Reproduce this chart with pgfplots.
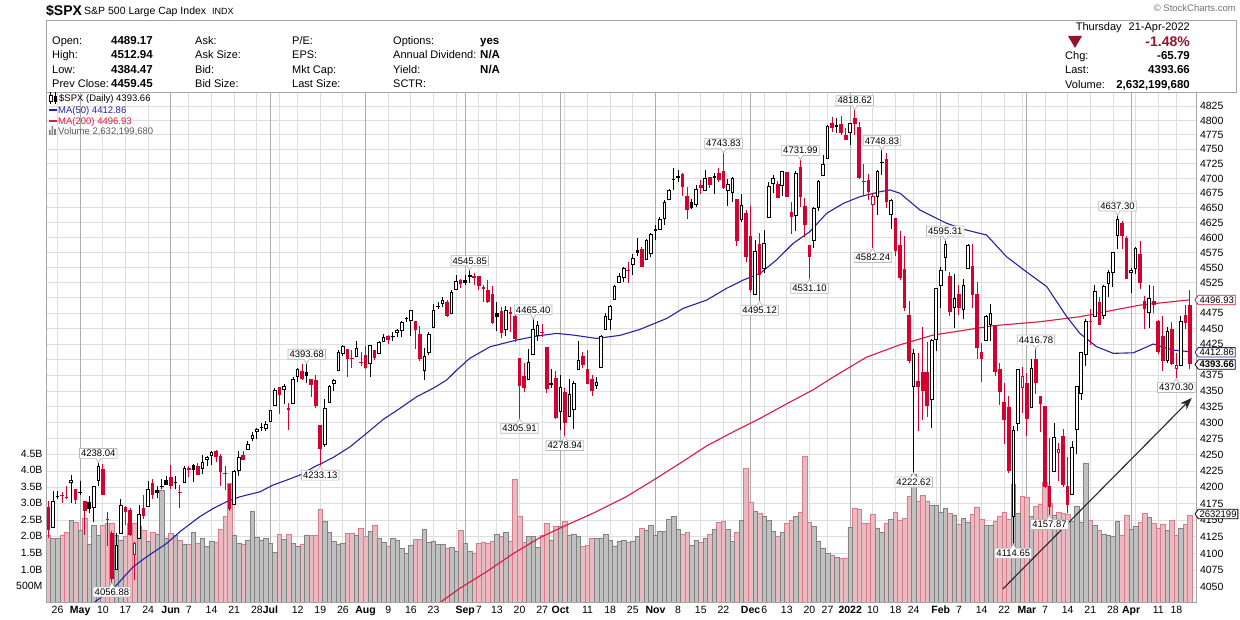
\documentclass[border=0pt]{standalone}
\usepackage{fontspec}
\setmainfont{Liberation Sans}
\usepackage{pgfplots}
\pgfplotsset{compat=1.18}
\usepackage{pgfplotstable}
\usetikzlibrary{shapes.callouts,shapes.symbols,arrows.meta}

\definecolor{cred}{RGB}{214,0,48}
\definecolor{mafifty}{RGB}{36,36,160}
\definecolor{matwo}{RGB}{222,24,62}
\definecolor{volpink}{RGB}{233,186,192}
\definecolor{volpinkedge}{RGB}{216,124,140}
\definecolor{volgray}{RGB}{192,192,192}
\definecolor{volgrayedge}{RGB}{130,130,130}
\definecolor{gridlight}{RGB}{222,222,222}
\definecolor{gridmonth}{RGB}{172,172,172}
\definecolor{framegray}{RGB}{165,165,165}
\definecolor{hdrred}{RGB}{150,20,48}

\newcommand{\fs}[1]{\fontsize{#1}{#1}\selectfont}

% price axis is plotted as 1000*ln(P/4000) on a linear axis (= logarithmic price scale)
\pgfplotstableread{
i O H L C V k
0 4170.46 4179.57 4123.69 4134.98 2.02 3
1 4138.78 4194.17 4138.78 4180.17 1.94 1
2 4185.03 4194.19 4182.36 4187.62 1.93 1
3 4188.25 4193.35 4176.22 4186.72 2.04 3
4 4185.14 4201.53 4181.78 4183.18 2.12 3
5 4206.14 4218.78 4176.81 4211.47 2.49 1
6 4198.10 4198.10 4174.85 4181.17 2.42 3
7 4191.98 4209.39 4188.03 4192.66 2.19 1
8 4179.04 4179.04 4128.59 4164.66 2.54 3
9 4177.06 4187.72 4160.94 4167.59 1.77 4
10 4169.14 4202.70 4147.33 4201.62 2.32 1
11 4210.34 4238.04 4201.64 4232.60 2.03 1
12 4228.29 4236.39 4188.13 4188.43 2.32 3
13 4150.34 4162.04 4111.53 4152.10 2.39 2
14 4130.55 4134.73 4056.88 4063.04 2.39 3
15 4074.99 4131.58 4074.99 4112.50 2.04 1
16 4129.58 4183.13 4129.58 4173.85 1.89 1
17 4169.92 4171.92 4142.69 4163.29 1.99 3
18 4165.94 4169.15 4125.99 4127.83 2.39 3
19 4098.45 4116.93 4061.41 4115.68 2.39 2
20 4121.97 4172.80 4121.97 4159.12 2.29 1
21 4168.61 4188.72 4151.72 4155.86 2.19 3
22 4170.16 4209.52 4170.16 4197.05 1.84 1
23 4205.94 4213.42 4182.52 4188.13 2.12 3
24 4191.59 4202.61 4184.11 4195.99 2.07 1
25 4201.94 4213.38 4197.78 4200.88 3.40 4
26 4210.77 4218.36 4203.57 4204.11 1.94 4
27 4216.52 4234.12 4197.59 4202.04 2.09 3
28 4206.82 4217.37 4198.27 4208.12 2.02 1
29 4191.43 4204.39 4167.93 4192.85 1.89 2
30 4206.05 4233.45 4206.05 4229.89 1.77 1
31 4229.34 4232.34 4215.66 4226.52 1.77 3
32 4233.81 4236.74 4208.41 4227.26 2.12 4
33 4232.99 4237.09 4218.74 4219.55 1.79 3
34 4228.56 4249.74 4220.34 4239.18 1.94 1
35 4242.90 4248.38 4232.25 4247.44 1.69 1
36 4248.31 4255.59 4234.07 4255.15 1.86 1
37 4255.28 4257.16 4238.35 4246.59 1.82 3
38 4248.87 4251.89 4202.45 4223.70 2.22 3
39 4220.37 4232.29 4196.05 4221.86 2.59 2
40 4204.78 4204.78 4164.40 4166.45 3.60 3
41 4173.40 4226.24 4173.40 4224.79 2.04 1
42 4224.61 4255.84 4217.27 4246.44 1.79 1
43 4249.27 4256.60 4241.43 4241.84 1.76 3
44 4256.97 4271.28 4256.97 4266.49 1.89 1
45 4274.45 4286.12 4271.16 4280.70 2.76 1
46 4284.90 4292.14 4274.67 4290.61 1.98 1
47 4293.21 4300.52 4287.04 4291.80 1.89 4
48 4290.65 4302.43 4287.96 4297.50 1.94 1
49 4300.73 4320.66 4300.73 4319.94 1.79 1
50 4326.60 4355.43 4326.60 4352.34 1.52 1
51 4356.46 4356.46 4314.37 4343.54 2.07 3
52 4351.01 4361.88 4329.79 4358.13 1.91 1
53 4321.07 4330.88 4289.37 4320.82 2.07 3
54 4329.38 4371.60 4329.38 4369.55 1.79 1
55 4372.41 4386.68 4364.03 4384.63 1.71 1
56 4381.07 4392.37 4366.92 4369.21 1.77 3
57 4380.11 4393.68 4362.36 4374.30 2.04 4
58 4369.02 4369.02 4340.70 4360.03 2.02 3
59 4367.43 4375.09 4322.53 4327.16 2.04 3
60 4296.40 4296.40 4233.13 4258.49 2.82 3
61 4265.11 4336.84 4262.05 4323.06 2.46 1
62 4331.13 4359.70 4331.13 4358.69 2.12 1
63 4361.27 4369.87 4350.06 4367.48 1.85 1
64 4381.20 4415.18 4381.20 4411.79 1.77 1
65 4409.58 4422.73 4405.45 4422.30 1.79 1
66 4416.38 4416.38 4372.51 4401.46 2.09 3
67 4402.95 4415.47 4387.01 4400.64 2.09 3
68 4403.59 4429.97 4403.59 4419.15 2.02 1
69 4395.12 4412.25 4389.65 4395.26 2.25 2
70 4406.86 4422.18 4384.81 4387.16 1.99 3
71 4392.74 4423.79 4373.00 4423.15 2.16 1
72 4415.95 4416.17 4400.23 4402.66 2.33 3
73 4408.86 4429.76 4408.86 4429.10 1.94 1
74 4429.07 4440.82 4429.07 4436.52 1.82 1
75 4437.77 4439.39 4424.74 4432.35 1.71 3
76 4435.79 4445.21 4430.03 4436.75 1.94 1
77 4442.18 4449.44 4436.42 4447.70 1.89 1
78 4446.08 4461.77 4435.96 4460.83 1.64 1
79 4464.84 4468.37 4460.82 4468.00 1.50 1
80 4461.65 4480.26 4437.66 4479.71 1.74 1
81 4462.12 4462.12 4417.83 4448.08 1.91 3
82 4440.94 4454.32 4397.59 4400.27 1.91 3
83 4382.44 4418.61 4367.73 4405.80 2.22 1
84 4410.56 4444.35 4406.80 4441.67 1.82 1
85 4450.29 4489.88 4450.29 4479.53 1.86 1
86 4484.40 4492.81 4482.28 4486.23 1.77 1
87 4490.45 4501.71 4485.66 4496.19 1.75 1
88 4493.75 4495.90 4468.99 4470.00 1.64 3
89 4474.10 4513.33 4474.10 4509.37 1.67 1
90 4513.76 4537.36 4513.76 4528.79 1.54 1
91 4529.75 4531.39 4515.80 4522.68 2.18 3
92 4528.80 4537.11 4522.02 4524.09 1.79 4
93 4534.48 4545.85 4524.66 4536.95 1.55 1
94 4532.42 4541.45 4521.65 4535.43 1.50 2
95 4535.38 4535.38 4513.00 4520.03 1.79 3
96 4518.09 4521.79 4493.95 4514.07 1.82 3
97 4513.02 4529.90 4492.07 4493.28 1.80 3
98 4506.92 4520.47 4457.66 4458.58 1.85 3
99 4474.81 4492.99 4445.70 4468.73 2.06 4
100 4479.33 4485.68 4435.46 4443.05 1.99 3
101 4447.49 4486.87 4438.37 4480.70 2.12 1
102 4477.09 4485.87 4443.80 4473.75 1.86 3
103 4469.74 4471.52 4427.76 4432.99 3.73 3
104 4402.95 4402.95 4305.91 4357.73 2.59 3
105 4374.45 4394.87 4347.96 4354.19 1.82 3
106 4367.43 4416.75 4367.43 4395.64 2.01 1
107 4406.75 4465.40 4406.75 4448.98 1.99 1
108 4438.04 4463.12 4430.27 4455.48 1.67 1
109 4442.12 4457.30 4436.19 4443.11 2.02 2
110 4419.54 4419.54 4346.33 4352.63 2.39 3
111 4362.41 4385.57 4355.08 4359.46 1.89 4
112 4370.67 4382.55 4306.24 4307.54 2.29 3
113 4317.16 4375.19 4288.52 4357.04 2.29 1
114 4348.84 4355.51 4278.94 4300.46 2.46 3
115 4309.87 4369.23 4309.87 4345.72 2.04 1
116 4319.57 4365.57 4290.49 4363.55 2.07 1
117 4383.73 4429.97 4383.73 4399.76 1.99 1
118 4406.51 4412.02 4386.22 4391.34 1.69 3
119 4385.44 4415.88 4360.59 4361.19 1.72 3
120 4368.31 4374.89 4342.09 4350.65 1.94 3
121 4358.01 4372.87 4353.11 4363.80 1.94 1
122 4386.75 4439.73 4386.75 4438.26 1.94 1
123 4447.69 4475.82 4447.69 4471.37 2.07 1
124 4463.72 4488.75 4447.47 4486.46 1.89 1
125 4497.34 4520.40 4496.41 4519.63 1.71 1
126 4524.42 4540.87 4524.40 4536.19 1.86 1
127 4532.24 4551.44 4526.89 4549.78 1.89 1
128 4546.12 4559.67 4524.00 4544.90 1.82 3
129 4553.69 4572.62 4537.36 4566.48 1.86 1
130 4578.69 4598.53 4569.17 4574.79 2.01 4
131 4580.22 4584.57 4551.66 4551.68 2.24 3
132 4562.84 4597.55 4562.84 4596.42 2.19 1
133 4572.87 4608.08 4567.59 4605.38 2.34 1
134 4610.62 4620.34 4595.06 4613.67 2.04 1
135 4613.34 4635.15 4613.34 4630.65 2.16 1
136 4630.65 4663.46 4621.19 4660.57 2.16 1
137 4662.93 4683.00 4662.59 4680.06 2.51 1
138 4699.26 4718.50 4681.32 4697.53 2.61 4
139 4701.48 4714.92 4694.39 4701.70 2.22 1
140 4707.25 4708.53 4670.87 4685.25 2.07 3
141 4670.26 4684.85 4630.86 4646.71 2.12 3
142 4659.39 4664.55 4648.31 4649.27 1.74 4
143 4655.24 4688.47 4650.77 4682.85 1.89 1
144 4689.30 4697.42 4672.86 4682.80 1.82 3
145 4679.42 4714.95 4679.42 4700.90 1.94 1
146 4701.50 4701.50 4684.41 4688.67 2.06 3
147 4700.72 4708.80 4672.78 4704.54 2.21 1
148 4708.44 4717.75 4694.22 4697.96 2.42 3
149 4712.00 4743.83 4682.17 4682.94 2.46 3
150 4678.48 4699.39 4652.66 4690.70 2.21 1
151 4675.78 4702.87 4659.89 4701.46 1.86 1
152 4664.63 4664.63 4585.43 4594.62 2.12 3
153 4628.75 4672.95 4625.26 4655.27 2.49 1
154 4640.25 4646.02 4560.00 4567.00 4.05 3
155 4602.82 4652.94 4510.27 4513.04 3.04 3
156 4504.73 4595.46 4504.73 4577.10 2.77 1
157 4589.49 4608.03 4495.12 4538.43 2.69 3
158 4548.37 4612.60 4540.51 4591.67 2.61 1
159 4631.97 4694.04 4631.97 4686.75 2.47 1
160 4690.86 4705.06 4674.52 4701.21 2.14 1
161 4691.00 4695.26 4665.98 4667.45 2.01 3
162 4687.64 4713.57 4670.24 4712.02 2.12 1
163 4710.30 4710.30 4667.60 4668.97 2.39 3
164 4642.99 4660.47 4606.52 4634.09 2.49 3
165 4636.46 4712.60 4611.22 4709.85 2.59 1
166 4719.13 4731.99 4651.89 4668.67 2.72 3
167 4652.50 4666.70 4600.22 4620.64 4.43 3
168 4587.90 4587.90 4531.10 4568.02 2.42 3
169 4594.96 4651.14 4583.16 4649.23 2.29 1
170 4650.36 4697.67 4645.53 4696.56 1.85 1
171 4703.96 4740.74 4703.96 4725.79 1.65 1
172 4733.99 4791.49 4733.99 4791.19 1.49 1
173 4795.49 4807.02 4780.04 4786.35 1.43 3
174 4788.64 4804.06 4778.08 4793.06 1.36 1
175 4794.23 4808.93 4775.33 4778.73 1.33 3
176 4775.21 4786.83 4765.75 4766.18 1.33 3
177 4778.14 4796.64 4758.17 4796.56 2.26 1
178 4804.51 4818.62 4774.27 4793.54 2.86 3
179 4787.99 4797.70 4699.44 4700.58 2.82 3
180 4693.39 4725.01 4671.26 4696.05 2.39 2
181 4697.66 4707.95 4662.74 4677.03 2.39 3
182 4655.34 4673.02 4582.24 4670.29 2.67 2
183 4669.14 4714.13 4638.27 4713.07 2.24 1
184 4728.59 4748.83 4706.71 4726.35 2.12 4
185 4733.56 4744.13 4650.29 4659.03 2.39 3
186 4637.99 4665.13 4614.75 4662.85 2.52 1
187 4632.24 4632.24 4568.70 4577.11 2.72 3
188 4588.03 4611.55 4530.20 4532.76 2.49 3
189 4547.35 4602.11 4477.95 4482.73 2.54 3
190 4471.38 4494.52 4395.34 4397.94 3.22 3
191 4356.32 4417.35 4222.62 4410.13 3.87 1
192 4366.64 4411.01 4287.11 4356.45 3.07 3
193 4380.58 4453.23 4304.80 4349.93 3.25 3
194 4380.50 4428.74 4309.50 4326.51 3.07 3
195 4336.19 4432.72 4292.46 4431.85 2.93 1
196 4431.79 4516.89 4414.02 4515.55 2.95 1
197 4519.57 4550.49 4483.53 4546.54 2.71 1
198 4566.39 4595.31 4544.32 4589.38 2.84 1
199 4535.41 4542.88 4470.39 4477.44 2.69 3
200 4482.79 4539.66 4451.50 4500.53 2.64 1
201 4505.75 4521.86 4471.47 4483.87 2.36 3
202 4480.02 4531.32 4465.40 4521.54 2.54 1
203 4547.00 4590.03 4547.00 4587.18 2.42 1
204 4553.24 4588.92 4484.31 4504.08 2.66 3
205 4506.27 4526.33 4401.41 4418.64 2.88 3
206 4412.61 4426.22 4364.84 4401.67 2.51 3
207 4429.28 4472.77 4429.28 4471.07 2.34 1
208 4455.75 4489.55 4429.68 4475.01 2.34 1
209 4456.06 4456.06 4373.81 4380.26 2.44 3
210 4384.57 4394.60 4327.22 4348.87 2.59 3
211 4332.74 4362.12 4267.11 4304.76 2.72 3
212 4324.93 4341.51 4221.51 4225.50 2.51 3
213 4155.77 4294.73 4114.65 4288.70 3.58 1
214 4298.38 4385.34 4286.83 4384.65 2.69 1
215 4354.17 4388.84 4315.12 4373.94 3.22 2
216 4363.14 4378.45 4279.54 4306.26 3.18 3
217 4322.56 4401.48 4322.56 4386.54 2.61 1
218 4401.31 4416.78 4345.56 4363.49 2.90 3
219 4342.12 4342.12 4284.98 4328.87 2.98 3
220 4327.01 4327.01 4199.85 4201.09 3.63 3
221 4202.66 4276.94 4157.87 4170.70 3.00 3
222 4223.10 4299.40 4223.10 4277.88 2.62 1
223 4252.55 4268.28 4209.80 4259.52 2.74 2
224 4279.50 4291.20 4200.49 4204.31 2.69 3
225 4202.75 4247.57 4161.72 4173.11 2.67 3
226 4188.82 4271.05 4187.90 4262.45 2.44 1
227 4288.14 4357.86 4251.99 4357.86 2.92 1
228 4345.11 4412.67 4335.65 4411.67 2.42 1
229 4407.34 4465.40 4390.57 4463.12 4.22 1
230 4462.40 4481.75 4424.30 4461.18 2.49 3
231 4469.10 4522.00 4469.10 4511.61 2.33 1
232 4493.10 4501.07 4455.81 4456.24 2.19 3
233 4469.98 4520.58 4465.17 4520.16 2.07 1
234 4522.91 4546.03 4501.07 4543.06 2.03 1
235 4541.09 4575.65 4517.69 4575.52 2.01 1
236 4602.86 4637.30 4581.18 4631.60 2.46 1
237 4624.20 4627.77 4581.32 4602.45 2.04 3
238 4599.02 4603.07 4530.41 4530.41 2.64 3
239 4540.32 4548.70 4507.57 4545.86 2.21 1
240 4547.97 4583.50 4539.21 4582.64 2.29 1
241 4572.45 4593.45 4514.17 4525.12 2.41 3
242 4494.17 4503.94 4450.04 4481.15 2.69 3
243 4474.65 4521.16 4450.30 4500.21 2.57 1
244 4494.15 4520.41 4474.60 4488.28 2.39 3
245 4462.64 4464.35 4408.38 4412.53 2.25 3
246 4437.59 4471.00 4381.34 4397.45 2.37 3
247 4397.32 4452.33 4394.57 4446.59 2.19 1
248 4449.12 4460.46 4390.77 4392.59 2.47 3
249 4385.63 4410.31 4370.30 4391.69 2.02 2
250 4390.63 4471.03 4390.63 4462.21 2.24 1
251 4472.26 4488.29 4448.76 4459.45 2.36 3
252 4489.17 4512.94 4384.47 4393.66 2.632 3
}\data

\pgfplotsset{
  base/.style={
    at={(46pt,16.5pt)}, anchor=south west, scale only axis,
    width=1150.5pt, height=510.5pt, xmin=-0.55, xmax=253.45,
    major tick length=0pt, minor tick length=0pt,
    tick label style={font=\fs{10.5}},
  },
  candle/.style={only marks, mark=*, mark size=0pt, mark options={draw=none, fill=none},
    error bars/y dir=plus, error bars/y explicit, error bars/error mark=none},
}
\tikzset{
  lbox/.style={rectangle callout, draw=gray!55, fill=white, line width=0.7pt,
    inner sep=1.6pt, font=\fs{9.5}, callout pointer width=5pt},
  tag/.style={signal, signal to=west, signal pointer angle=110, fill=white,
    line width=0.8pt, inner sep=1.3pt, font=\fs{9.5}, anchor=west},
}
\newcommand{\hi}[2]{\node[lbox,above=4pt,callout absolute pointer={(axis cs:#1,{1000*ln(#2/4000)})}] at (axis cs:#1,{1000*ln(#2/4000)}) {#2};}
\newcommand{\lo}[2]{\node[lbox,below=4pt,callout absolute pointer={(axis cs:#1,{1000*ln(#2/4000)})}] at (axis cs:#1,{1000*ln(#2/4000)}) {#2};}

\begin{document}
\begin{tikzpicture}[x=1pt,y=1pt]
\useasboundingbox (0,0) rectangle (1240,619);
\fill[white] (0,0) rectangle (1240,619);

% ---------- axis A: grid and price tick labels
\begin{axis}[base, ymin=6.876, ymax=192.726,
  axis line style={draw=none},
  xtick={2,7,12,17,22,27,31,36,41,46,49,51,55,60,65,70,75,80,85,90,92,95,99,104,109,113,114,119,124,129,134,139,144,149,153,155,158,163,168,172,177,182,187,191,196,197,201,206,211,215,216,220,225,230,235,239,240,245,249},
  xticklabels={},
  extra x ticks={7,27,49,70,92,113,134,155,177,197,216,239},
  extra x tick labels={},
  extra x tick style={xmajorgrids=true, major grid style={draw=gridmonth, line width=0.9pt}},
  xmajorgrids, ymajorgrids,
  major grid style={draw=gridlight, line width=0.9pt},
  ytick={12.422,18.576,24.693,30.772,36.814,42.820,48.790,54.725,60.625,66.490,72.321,78.118,83.881,89.612,95.310,100.976,106.610,112.212,117.783,123.323,128.833,134.313,139.762,145.182,150.572,155.934,161.268,166.573,171.850,177.099,182.322,187.516},
  yticklabels={4050,4075,4100,4125,4150,4175,4200,4225,4250,4275,4300,4325,4350,4375,{},4425,4450,4475,{},4525,4550,4575,4600,4625,4650,4675,4700,4725,4750,4775,4800,4825},
  yticklabel pos=right,
]
\addplot[draw=none, forget plot] coordinates {(0,50) (1,50)};
\end{axis}

% ---------- axis B: volume
\begin{axis}[base, ymin=0, ymax=15.423,
  axis line style={draw=none},
  xtick=\empty,
  ytick={0.5,1,1.5,2,2.5,3,3.5,4,4.5},
  yticklabels={500M,1.0B,1.5B,2.0B,2.5B,3.0B,3.5B,4.0B,4.5B},
  yticklabel pos=left,
]
\addplot[ybar, bar width=1, bar shift=0pt, fill=volpink, draw=volpinkedge, line width=0.6pt,
  restrict expr to domain={\thisrow{k}}{2:3}] table[x=i,y=V]{\data};
\addplot[ybar, bar width=1, bar shift=0pt, fill=volgray, draw=volgrayedge, line width=0.6pt,
  restrict expr to domain={abs(\thisrow{k}-2.5)}{1.4:1.6}] table[x=i,y=V]{\data};
\end{axis}

% ---------- axis C: price
\begin{axis}[base, ymin=6.876, ymax=192.726, clip mode=individual, axis on top,
  axis line style={draw=framegray, line width=0.8pt},
  ytick=\empty,
  xtick={2,7,12,17,22,27,31,36,41,46,49,55,60,65,70,75,80,85,92,95,99,104,109,113,119,124,129,134,139,144,149,155,158,163,168,172,177,182,187,191,197,201,206,211,216,220,225,230,235,239,245,249},
  xticklabels={26,\textbf{May},10,17,24,\textbf{Jun},7,14,21,28,\textbf{Jul},12,19,26,\textbf{Aug},9,16,23,\textbf{Sep},7,13,20,27,\textbf{Oct},11,18,25,\textbf{Nov},8,15,22,\textbf{Dec},6,13,20,27,\textbf{2022},10,18,24,\textbf{Feb},7,14,22,\textbf{Mar},7,14,21,28,\textbf{Apr},11,18},
]
% moving averages (values in index points, transformed to log scale)
\addplot[matwo, line width=1.1pt, y filter/.expression={1000*ln(y/4000)}] coordinates {
(84,4018) (86.4,4027.6) (90.8,4048.5) (96.7,4073) (102.6,4100) (108.5,4124) (114.4,4143)
(120.3,4161) (127.6,4186) (133.5,4211) (139.4,4237) (145.3,4264) (151.2,4286) (157.1,4307)
(163,4330) (168.8,4352) (173.2,4372) (180.6,4404) (188,4424) (195.3,4439.6) (208.6,4454.6)
(218.9,4461.2) (227.7,4469.3) (235.1,4480) (241,4488.3) (252,4496.93)};
\addplot[mafifty, line width=1.1pt, y filter/.expression={1000*ln(y/4000)}] coordinates {
(9,4020) (10.3,4028.8) (14.7,4050.9) (18.7,4080.5) (21.7,4095.4) (26.1,4115.4) (29,4132.8)
(33.4,4155.5) (36.4,4168.2) (39.3,4178.2) (42.3,4185.8) (46.7,4193.4) (49.6,4203.7)
(52.6,4211.4) (55.5,4219) (58.8,4232) (60,4236) (62.9,4246.3) (66.6,4262.7) (70.2,4283.6)
(73.9,4305.4) (77.6,4322.7) (81.3,4341.1) (84.9,4354.4) (87.9,4367.5) (90.1,4383.3)
(93,4402.1) (97.5,4420.7) (103.4,4431.6) (107.8,4438) (112.2,4442.3) (115.9,4439.6)
(121,4434.2) (126.2,4439.1) (130.6,4448.8) (136.5,4466.6) (140.1,4482.9) (145.3,4496.5)
(149.7,4515.7) (153.4,4529.4) (157.1,4540.5) (160.7,4562.5) (164.4,4590.3) (168.1,4610)
(171.8,4640.8) (175.5,4657.6) (179.1,4668.8) (183.5,4677.3) (185.8,4680.3) (188,4674.6)
(192.4,4646.3) (198.3,4623.8) (202.7,4612.6) (207.1,4604.2) (211.5,4568) (215.9,4543)
(220.4,4518.4) (224.8,4469.3) (227.7,4442.3) (231.4,4420.7) (235.1,4410.2) (239.5,4411)
(243.9,4425.1) (248.3,4415.4) (252,4412.86)};
% wicks
\addplot[candle, restrict expr to domain={abs(\thisrow{k}-2.5)}{1.4:1.6},
  error bars/error bar style={draw=black, line width=1pt}]
  table[x=i, y expr={1000*ln(\thisrow{L}/4000)}, y error expr={1000*ln(\thisrow{H}/\thisrow{L})}]{\data};
\addplot[candle, restrict expr to domain={\thisrow{k}}{2:3},
  error bars/error bar style={draw=cred, line width=1pt}]
  table[x=i, y expr={1000*ln(\thisrow{L}/4000)}, y error expr={1000*ln(\thisrow{H}/\thisrow{L})}]{\data};
% bodies
\addplot[candle, restrict expr to domain={abs(\thisrow{k}-2.5)}{1.4:1.6},
  error bars/error bar style={draw=black, line width=3.6pt}]
  table[x=i, y expr={1000*ln(min(\thisrow{O},\thisrow{C})/4000)}, y error expr={max(1000*abs(ln(\thisrow{C}/\thisrow{O})),0.4)}]{\data};
\addplot[candle, restrict expr to domain={\thisrow{k}}{2:3},
  error bars/error bar style={draw=cred, line width=3.6pt}]
  table[x=i, y expr={1000*ln(min(\thisrow{O},\thisrow{C})/4000)}, y error expr={max(1000*abs(ln(\thisrow{C}/\thisrow{O})),0.4)}]{\data};
% hollow interiors
\addplot[candle, restrict expr to domain={(\thisrow{k}<2.5)*(\thisrow{C}-\thisrow{O}>4.5)}{0.5:1.5},
  error bars/error bar style={draw=white, line width=1.6pt}]
  table[x=i, y expr={1000*ln(\thisrow{O}/4000)+0.364}, y error expr={1000*ln(\thisrow{C}/\thisrow{O})-0.728}]{\data};

% arrow
\draw[black!85, line width=1.1pt, -{Stealth[length=12pt,width=9pt]}] (axis cs:210.7,11.805) -- (axis cs:252.4,81.33);

% high / low labels
\hi{11}{4238.04}
\lo{14}{4056.88}
\hi{57}{4393.68}
\lo{60}{4233.13}
\hi{93}{4545.85}
\hi{107}{4465.40}
\lo{104}{4305.91}
\lo{114}{4278.94}
\hi{149}{4743.83}
\lo{157}{4495.12}
\hi{166}{4731.99}
\lo{168}{4531.10}
\hi{178}{4818.62}
\hi{184}{4748.83}
\lo{182}{4582.24}
\hi{198}{4595.31}
\lo{191}{4222.62}
\hi{218}{4416.78}
\lo{213}{4114.65}
\lo{221}{4157.87}
\hi{236}{4637.30}
\lo{249}{4370.30}
\end{axis}

% ---------- header
\node[anchor=base west, inner sep=0, font=\fs{14}\bfseries] at (46,603) {\$SPX};
\node[anchor=base west, inner sep=0, font=\fs{10.5}] at (84,604) {S\&P 500 Large Cap Index};
\node[anchor=base west, inner sep=0, font=\fs{9}] at (212,604) {INDX};
\node[anchor=base east, inner sep=0, font=\fs{9.5}, text=gray!90!black] at (1236,607.5) {© StockCharts.com};
\draw[framegray, line width=0.8pt] (46,527) rectangle (1236,599);

\begin{scope}[every node/.style={anchor=base west, inner sep=0, font=\fs{11}}]
\node at (52,574) {Open:};
\node at (52,560) {High:};
\node at (52,545) {Low:};
\node at (52,531) {Prev Close:};
\node[font=\fs{11.5}\bfseries] at (111,574) {4489.17};
\node[font=\fs{11.5}\bfseries] at (111,560) {4512.94};
\node[font=\fs{11.5}\bfseries] at (111,545) {4384.47};
\node[font=\fs{11.5}\bfseries] at (111,531) {4459.45};
\node at (195,574) {Ask:};
\node at (195,560) {Ask Size:};
\node at (195,545) {Bid:};
\node at (195,531) {Bid Size:};
\node at (292,574) {P/E:};
\node at (292,560) {EPS:};
\node at (292,545) {Mkt Cap:};
\node at (292,531) {Last Size:};
\node at (393,574) {Options:};
\node at (393,560) {Annual Dividend:};
\node at (393,545) {Yield:};
\node at (393,531) {SCTR:};
\node[font=\fs{11.5}\bfseries] at (480,574) {yes};
\node[font=\fs{11.5}\bfseries] at (480,560) {N/A};
\node[font=\fs{11.5}\bfseries] at (480,545) {N/A};
\node at (1065,559) {Chg:};
\node at (1065,545) {Last:};
\node at (1065,530) {Volume:};
\end{scope}
\begin{scope}[every node/.style={anchor=base east, inner sep=0, font=\fs{11.5}\bfseries}]
\node[font=\fs{11}] at (1190,588) {Thursday\hspace{7pt}21-Apr-2022};
\node[font=\fs{14}\bfseries, text=hdrred] at (1190,572) {-1.48\%};
\node at (1190,559) {-65.79};
\node at (1190,545) {4393.66};
\node at (1190,530) {2,632,199,680};
\end{scope}
\fill[hdrred] (1068,583) -- (1082,583) -- (1075,571) -- cycle;

% ---------- legend inside the plot
\draw[black, line width=0.8pt] (50.5,515) -- (50.5,527);
\draw[black, fill=white, line width=0.8pt] (49,518) rectangle (52,524);
\draw[black, line width=0.8pt] (55,515) -- (55,527);
\fill[black] (53.5,517) rectangle (56.5,523);
\node[anchor=base west, inner sep=0, font=\fs{9.5}] at (59,517.5) {\$SPX (Daily) 4393.66};
\draw[mafifty, line width=2pt] (49,509) -- (57,509);
\node[anchor=base west, inner sep=0, font=\fs{9.5}, text=mafifty] at (58,505.5) {MA(50) 4412.86};
\draw[matwo, line width=2pt] (49,498) -- (57,498);
\node[anchor=base west, inner sep=0, font=\fs{9.5}, text=matwo] at (58,494.5) {MA(200) 4496.93};
\fill[gray] (49,484) rectangle (50.6,489) (51.6,484) rectangle (53.2,493) (54.2,484) rectangle (55.8,490);
\node[anchor=base west, inner sep=0, font=\fs{9.5}, text=black!65] at (58,484.5) {Volume 2,632,199,680};

% ---------- last value tags on the right
\node[tag, draw=matwo] at (1194.5,319) {4496.93};
\node[tag, draw=mafifty] at (1194.5,266.7) {4412.86};
\node[tag, draw=black, font=\fs{9.5}\bfseries] at (1194.5,254.5) {4393.66};
\node[tag, draw=black] at (1194.5,105) {2632199};
\end{tikzpicture}
\end{document}
